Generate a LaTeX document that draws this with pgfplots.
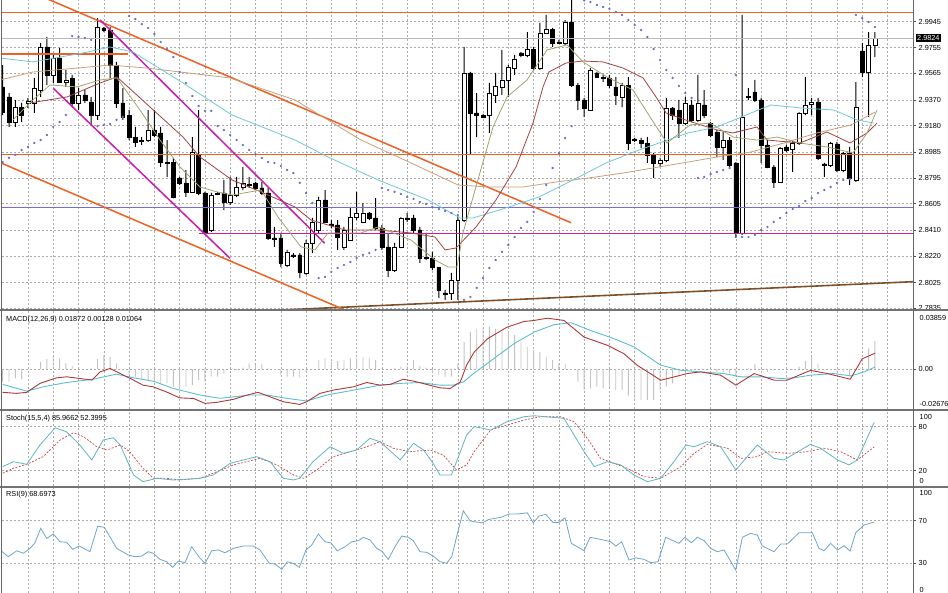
\documentclass[border=0pt]{standalone}
\usepackage{pgfplots}
\usepackage{pgfplotstable}
\pgfplotsset{compat=1.18}
\usepackage{fontspec}
\setmainfont{Liberation Sans}
\newcommand{\lbl}{\fontsize{7.3}{8.5}\selectfont}

\definecolor{mtorange}{RGB}{238,96,36}
\definecolor{mtbid}{RGB}{185,185,185}
\definecolor{mtslate}{RGB}{115,110,215}
\definecolor{mtmag}{RGB}{200,30,170}
\definecolor{mtbrown}{RGB}{125,80,40}
\definecolor{mtolive}{RGB}{160,165,110}
\definecolor{mtmaroon}{RGB}{165,65,65}
\definecolor{mtcyan}{RGB}{110,200,215}
\definecolor{mttan}{RGB}{200,160,120}
\definecolor{mtsar}{RGB}{105,105,205}
\definecolor{mtgrid}{RGB}{170,170,170}
\definecolor{mthist}{RGB}{195,195,195}
\definecolor{macdred}{RGB}{175,55,55}
\definecolor{macdcyan}{RGB}{90,190,210}
\definecolor{stochmain}{RGB}{95,180,190}
\definecolor{stochsig}{RGB}{200,70,70}
\definecolor{rsiblue}{RGB}{110,165,205}

\pgfplotstableread{
i o h l c
0 2.9465 2.9626 2.9258 2.9280
1 2.9391 2.9420 2.9170 2.9207
2 2.9207 2.9369 2.9170 2.9317
3 2.9317 2.9347 2.9207 2.9258
4 2.9347 2.9384 2.9310 2.9361
5 2.9347 2.9531 2.9273 2.9457
6 2.9442 2.9788 2.9391 2.9759
7 2.9759 2.9833 2.9479 2.9553
8 2.9553 2.9700 2.9494 2.9678
9 2.9678 2.9752 2.9494 2.9501
10 2.9501 2.9590 2.9465 2.9516
11 2.9531 2.9553 2.9317 2.9347
12 2.9347 2.9457 2.9295 2.9406
13 2.9406 2.9442 2.9347 2.9369
14 2.9354 2.9391 2.9185 2.9258
15 2.9258 2.9972 2.9222 2.9906
16 2.9899 2.9906 2.9869 2.9884
17 2.9884 2.9906 2.9531 2.9626
18 2.9626 2.9649 2.9310 2.9347
19 2.9347 2.9457 2.9222 2.9244
20 2.9258 2.9295 2.9074 2.9096
21 2.9096 2.9170 2.9023 2.9060
22 2.9067 2.9096 2.9038 2.9074
23 2.9074 2.9295 2.9060 2.9148
24 2.9148 2.9295 2.9096 2.9111
25 2.9126 2.9170 2.8876 2.8912
26 2.8912 2.9074 2.8802 2.8905
27 2.8912 2.8942 2.8647 2.8655
28 2.8795 2.8802 2.8743 2.8758
29 2.8758 2.8853 2.8655 2.8692
30 2.8692 2.9096 2.8684 2.8986
31 2.8964 2.9295 2.8669 2.8684
32 2.8684 2.8692 2.8390 2.8397
33 2.8412 2.8684 2.8397 2.8669
34 2.8677 2.8692 2.8669 2.8684
35 2.8684 2.8780 2.8559 2.8618
36 2.8618 2.8802 2.8596 2.8669
37 2.8669 2.8802 2.8655 2.8728
38 2.8728 2.8876 2.8706 2.8758
39 2.8750 2.8802 2.8721 2.8743
40 2.8758 2.8765 2.8706 2.8721
41 2.8721 2.8765 2.8669 2.8684
42 2.8684 2.8721 2.8338 2.8353
43 2.8353 2.8434 2.8287 2.8346
44 2.8353 2.8390 2.8139 2.8169
45 2.8154 2.8265 2.8139 2.8250
46 2.8228 2.8242 2.8206 2.8220
47 2.8228 2.8242 2.8058 2.8103
48 2.8095 2.8338 2.8081 2.8316
49 2.8316 2.8500 2.8242 2.8471
50 2.8412 2.8655 2.8390 2.8633
51 2.8633 2.8706 2.8463 2.8471
52 2.8456 2.8485 2.8427 2.8449
53 2.8449 2.8485 2.8265 2.8360
54 2.8287 2.8434 2.8265 2.8412
55 2.8338 2.8581 2.8338 2.8507
56 2.8507 2.8692 2.8485 2.8537
57 2.8471 2.8610 2.8463 2.8537
58 2.8537 2.8544 2.8485 2.8500
59 2.8500 2.8647 2.8412 2.8427
60 2.8427 2.8449 2.8265 2.8287
61 2.8287 2.8390 2.8066 2.8117
62 2.8117 2.8316 2.8103 2.8287
63 2.8287 2.8507 2.8279 2.8500
64 2.8500 2.8537 2.8471 2.8493
65 2.8500 2.8522 2.8390 2.8412
66 2.8412 2.8434 2.8169 2.8206
67 2.8206 2.8390 2.8191 2.8213
68 2.8206 2.8250 2.8117 2.8139
69 2.8139 2.8139 2.7911 2.7970
70 2.7948 2.7970 2.7897 2.7941
71 2.7948 2.8095 2.7897 2.8044
72 2.8044 2.8507 2.7897 2.8485
73 2.8485 2.9759 2.8471 2.9568
74 2.9568 2.9575 2.8964 2.9273
75 2.9273 2.9420 2.9096 2.9258
76 2.9258 2.9266 2.9236 2.9244
77 2.9258 2.9494 2.9126 2.9420
78 2.9406 2.9568 2.9347 2.9472
79 2.9465 2.9737 2.9406 2.9516
80 2.9516 2.9626 2.9391 2.9612
81 2.9604 2.9700 2.9553 2.9671
82 2.9715 2.9722 2.9685 2.9700
83 2.9700 2.9869 2.9685 2.9744
84 2.9744 2.9759 2.9590 2.9604
85 2.9604 2.9936 2.9590 2.9862
86 2.9862 2.9995 2.9862 2.9891
87 2.9891 2.9899 2.9759 2.9788
88 2.9796 2.9811 2.9781 2.9788
89 2.9788 2.9958 2.9774 2.9943
90 2.9943 3.0120 2.9465 2.9479
91 2.9479 2.9494 2.9295 2.9369
92 2.9369 2.9384 2.9244 2.9310
93 2.9295 2.9604 2.9295 2.9590
94 2.9568 2.9575 2.9531 2.9538
95 2.9538 2.9553 2.9501 2.9531
96 2.9531 2.9553 2.9457 2.9479
97 2.9465 2.9538 2.9332 2.9406
98 2.9391 2.9494 2.9317 2.9479
99 2.9479 2.9538 2.9001 2.9052
100 2.9082 2.9089 2.9060 2.9074
101 2.9074 2.9089 2.9015 2.9052
102 2.9052 2.9096 2.8905 2.8964
103 2.8964 2.8979 2.8795 2.8905
104 2.8905 2.8942 2.8876 2.8927
105 2.8927 2.9384 2.8912 2.9310
106 2.9310 2.9317 2.9222 2.9258
107 2.9295 2.9369 2.9089 2.9199
108 2.9199 2.9391 2.9185 2.9347
109 2.9332 2.9369 2.9207 2.9222
110 2.9222 2.9553 2.9207 2.9347
111 2.9332 2.9442 2.9236 2.9258
112 2.9199 2.9207 2.9096 2.9111
113 2.9133 2.9148 2.8949 2.9023
114 2.9023 2.9133 2.8927 2.9074
115 2.9074 2.9096 2.8876 2.8890
116 2.8905 2.8912 2.8353 2.8390
117 2.8390 2.9995 2.8375 2.9244
118 2.9391 2.9457 2.9369 2.9398
119 2.9428 2.9516 2.9354 2.9369
120 2.9369 2.9384 2.8905 2.9038
121 2.9038 2.9074 2.8868 2.8876
122 2.8876 2.8890 2.8721 2.8765
123 2.8765 2.9023 2.8758 2.9015
124 2.9023 2.9038 2.8986 2.9001
125 2.9008 2.9074 2.8839 2.9052
126 2.9052 2.9280 2.9038 2.9273
127 2.9273 2.9538 2.9258 2.9332
128 2.9339 2.9384 2.9258 2.9354
129 2.9354 2.9384 2.8927 2.8942
130 2.8898 2.8905 2.8802 2.8890
131 2.8890 2.9060 2.8876 2.9052
132 2.9045 2.9060 2.8839 2.8853
133 2.8853 2.8986 2.8839 2.8979
134 2.8979 2.9023 2.8743 2.8795
135 2.8780 2.9501 2.8765 2.9317
136 2.9730 2.9788 2.9538 2.9575
137 2.9575 2.9869 2.9244 2.9774
138 2.9774 2.9869 2.9685 2.9825
}\candles

\pgfplotstableread{
x y
-0.43 2.9516
4.79 2.9575
10.17 2.9597
16.98 2.9626
22.83 2.9604
28.05 2.9575
35.97 2.9531
46.25 2.9369
56.69 2.9074
64.6 2.8905
72.04 2.8743
76.95 2.8728
82.33 2.8728
87.55 2.8765
92.77 2.8795
98.15 2.8831
108.44 2.8912
113.02 2.8949
118.4 2.8986
123.62 2.9052
128.84 2.9126
134.22 2.9185
138.02 2.9280
}\tanma

\pgfplotstableread{
x y
-0.43 2.9678
4.79 2.9649
12.71 2.9715
16.98 2.9759
20.62 2.9722
28.53 2.9494
36.28 2.9258
46.25 2.9074
51.47 2.8949
59.38 2.8780
67.3 2.8633
72.36 2.8500
74.41 2.8500
79.64 2.8574
84.86 2.8655
90.24 2.8780
95.46 2.8905
100.68 2.9001
108.44 2.9126
113.02 2.9170
118.4 2.9273
121.56 2.9332
126.31 2.9310
131.53 2.9295
135.17 2.9222
137.86 2.9199
}\cyanma

\pgfplotstableread{
x y
4.32 2.9347
10.17 2.9391
15.4 2.9494
18.09 2.9538
23.31 2.9317
28.53 2.9096
31.22 2.8949
36.28 2.8780
40.87 2.8692
46.25 2.8581
48.78 2.8485
54.16 2.8412
59.38 2.8412
64.6 2.8390
68.4 2.8360
69.99 2.8265
71.72 2.8279
74.89 2.8434
78.05 2.8633
81.22 2.8876
83.91 2.9199
85.49 2.9465
86.44 2.9575
89.13 2.9641
91.82 2.9656
94.99 2.9649
98.15 2.9604
101.32 2.9531
103.37 2.9391
104.96 2.9273
108.44 2.9215
113.02 2.9148
115.55 2.9126
119.35 2.9170
120.93 2.9074
126.15 2.9052
130.42 2.9133
134.07 2.9052
136.76 2.9126
138.34 2.9199
}\maroonma

\pgfplotstableread{
x y
1.63 2.9222
4.79 2.9369
7.48 2.9479
11.76 2.9465
15.4 2.9516
18.09 2.9531
21.72 2.9295
24.89 2.9074
28.05 2.8876
31.22 2.8728
33.91 2.8692
36.28 2.8669
40.87 2.8706
43.56 2.8507
47.2 2.8287
49.41 2.8265
51.47 2.8390
56.69 2.8390
59.38 2.8434
64.6 2.8338
68.4 2.8191
70.46 2.8139
71.88 2.8139
72.83 2.8390
75.05 2.8758
77.58 2.9170
79.8 2.9391
82.96 2.9516
86.12 2.9737
89.29 2.9774
91.82 2.9649
95.62 2.9538
99.73 2.9442
102.42 2.9244
105.11 2.9052
108.75 2.9185
111.91 2.9199
115.55 2.9096
119.35 2.9074
122.52 2.9096
126.15 2.9052
130.42 2.9023
134.54 2.8979
136.76 2.9126
138.34 2.9295
}\olivema

\pgfplotstableread{
x y
0 2.8912
1 2.8942
2 2.8964
3 2.9001
4 2.9023
5 2.9052
6 2.9074
7 2.9111
8 2.9170
9 2.9207
10 2.9258
11 2.9840
12 2.9833
13 2.9825
14 2.9811
15 2.9177
16 2.9185
17 2.9192
18 2.9222
19 2.9244
20 2.9987
21 2.9965
22 2.9928
23 2.9899
24 2.9855
25 2.9796
26 2.9744
27 2.9685
28 2.9575
29 2.9494
30 2.9398
31 2.9325
32 2.9288
33 2.9288
34 2.9177
35 2.9148
36 2.9111
37 2.9074
38 2.9038
39 2.9001
40 2.8971
41 2.8942
42 2.8912
43 2.8905
44 2.8883
45 2.8853
46 2.8831
47 2.8758
48 2.8684
49 2.8610
50 2.8058
51 2.8066
52 2.8103
53 2.8132
54 2.8154
55 2.8176
56 2.8206
57 2.8228
58 2.8242
59 2.8265
60 2.8721
61 2.8706
62 2.8692
63 2.8677
64 2.8655
65 2.8640
66 2.8618
67 2.8603
68 2.8581
69 2.8566
70 2.8552
71 2.8537
72 2.8522
73 2.7897
74 2.7919
75 2.7985
76 2.8058
77 2.8132
78 2.8191
79 2.8250
80 2.8301
81 2.8360
82 2.8427
83 2.8471
84 2.8544
85 2.8640
86 2.8743
87 2.8868
88 2.8979
89 2.9089
90 2.9177
92 3.0102
93 3.0090
94 3.0068
95 3.0053
96 3.0039
97 3.0017
98 2.9995
99 2.9958
100 2.9921
101 2.9884
102 2.9833
103 2.9744
104 2.9663
105 2.9590
106 2.9531
107 2.9472
108 2.9420
109 2.9384
110 2.8795
111 2.8802
112 2.8824
113 2.8839
114 2.8853
115 2.8868
116 2.9553
117 2.8360
118 2.8360
119 2.8375
120 2.8412
121 2.8434
122 2.8471
123 2.8500
124 2.8537
125 2.8566
126 2.8588
127 2.8625
128 2.8647
129 2.8684
130 2.8706
131 2.8728
132 2.8758
133 2.8780
134 2.8787
135 2.9995
136 2.9972
137 2.9943
138 2.9906
}\sar

\pgfplotstableread{
i v
0 -0.0084
1 -0.0084
2 -0.0062
3 -0.0067
4 -0.0007
5 0.0000
6 0.0049
7 0.0067
8 0.0082
9 0.0071
10 0.0038
11 0.0022
12 0.0000
13 0.0000
14 0.0004
15 0.0067
16 0.0093
17 0.0082
18 0.0038
19 -0.0007
20 -0.0040
21 -0.0051
22 -0.0067
23 -0.0073
24 -0.0084
25 -0.0102
26 -0.0096
27 -0.0118
28 -0.0129
29 -0.0118
30 -0.0107
31 -0.0073
32 -0.0084
33 -0.0051
34 -0.0051
35 -0.0029
36 0.0000
37 -0.0007
38 0.0009
39 0.0038
40 0.0027
41 0.0031
42 0.0004
43 -0.0007
44 -0.0040
45 -0.0051
46 -0.0051
47 -0.0058
48 -0.0018
49 0.0000
50 0.0060
51 0.0071
52 0.0049
53 0.0053
54 0.0060
55 0.0071
56 0.0071
57 0.0082
58 0.0076
59 0.0060
60 0.0004
61 0.0000
62 0.0004
63 0.0016
64 0.0022
65 0.0060
66 0.0022
67 0.0009
68 -0.0029
69 -0.0040
70 -0.0051
71 -0.0051
72 0.0038
73 0.0182
74 0.0249
75 0.0271
76 0.0282
77 0.0282
78 0.0271
79 0.0253
80 0.0249
81 0.0227
82 0.0182
83 0.0149
84 0.0127
85 0.0116
86 0.0082
87 0.0060
88 0.0038
89 0.0031
90 -0.0007
91 -0.0084
92 -0.0140
93 -0.0129
94 -0.0118
95 -0.0129
96 -0.0118
97 -0.0140
98 -0.0140
99 -0.0178
100 -0.0207
101 -0.0207
102 -0.0207
103 -0.0207
104 -0.0140
105 -0.0118
106 -0.0096
107 -0.0051
108 -0.0029
109 -0.0013
110 -0.0007
111 -0.0002
112 -0.0007
113 -0.0018
114 -0.0018
115 -0.0029
116 -0.0051
117 -0.0007
118 0.0004
119 0.0031
120 -0.0007
121 -0.0018
122 -0.0007
123 0.0000
124 0.0004
125 -0.0007
126 0.0016
127 0.0053
128 0.0082
129 0.0038
130 0.0000
131 -0.0007
132 -0.0018
133 -0.0018
134 -0.0040
135 -0.0007
136 0.0004
137 0.0138
138 0.0187
}\hist

\pgfplotstableread{
x y
0 -0.0156
2.2 -0.0163
3.8 -0.0156
5.9 -0.0096
8.5 -0.0059
10.1 -0.0052
12.2 -0.0063
14.1 -0.0074
15.4 -0.0019
17.0 0.0004
18.6 -0.0030
20.7 -0.0074
22.2 -0.0108
23.8 -0.0119
25.9 -0.0153
28.0 -0.0193
30.2 -0.0197
32.0 -0.0230
33.9 -0.0223
36.5 -0.0203
38.6 -0.0175
40.4 -0.0156
42.3 -0.0186
44.4 -0.0219
47.0 -0.0237
48.1 -0.0219
50.2 -0.0163
52.3 -0.0141
55.5 -0.0119
57.6 -0.0090
59.7 -0.0108
61.3 -0.0103
63.4 -0.0068
65.0 -0.0081
67.1 -0.0103
69.2 -0.0126
70.8 -0.0130
72.4 -0.0086
73.4 0.0026
74.6 0.0114
76.7 0.0203
79.8 0.0281
82.5 0.0319
84.1 0.0326
86.2 0.0341
88.8 0.0326
92.0 0.0214
95.7 0.0159
98.3 0.0103
100.4 0.0025
102.5 -0.0031
104.1 -0.0075
106.2 -0.0053
108.3 -0.0030
110.4 -0.0019
113.6 -0.0041
116.0 -0.0108
118.9 -0.0030
122.1 -0.0075
124.1 -0.0075
127.8 -0.0009
130.5 -0.0030
134.1 -0.0068
136.0 0.0069
138.0 0.0106
}\macdr

\pgfplotstableread{
x y
0 -0.0103
3.8 -0.0148
6.4 -0.0119
10.1 -0.0090
14.3 -0.0068
18.0 -0.0034
20.7 -0.0059
23.8 -0.0081
27.0 -0.0130
31.2 -0.0174
34.4 -0.0196
39.1 -0.0174
41.8 -0.0174
44.9 -0.0196
48.1 -0.0214
51.3 -0.0174
55.5 -0.0141
59.7 -0.0108
62.9 -0.0096
66.0 -0.0090
69.2 -0.0108
71.3 -0.0108
72.9 -0.0086
74.5 -0.0030
77.7 0.0070
80.9 0.0170
84.1 0.0248
87.2 0.0297
89.9 0.0311
93.0 0.0259
96.7 0.0204
99.9 0.0148
104.1 0.0026
107.3 -0.0008
110.4 -0.0019
114.1 -0.0030
116.8 -0.0052
119.9 -0.0052
123.1 -0.0063
125.2 -0.0059
127.8 -0.0041
131.5 -0.0030
134.2 -0.0046
136.3 -0.0019
138.0 0.0013
}\macdc

\pgfplotstableread{
x y
0 25.4
1.7 32.2
3.8 28.6
5.9 55.0
8.3 78.5
10.1 73.1
12.2 55.0
14.1 34.5
15.9 61.8
17.5 64.9
18.6 55.0
20.7 14.0
22.2 4.9
24.4 9.5
27.0 7.2
31.2 9.5
33.3 14.0
36.0 30.0
40.2 39.0
42.3 32.2
44.4 9.5
46.0 7.2
47.0 9.5
49.1 32.2
51.8 52.6
53.9 43.6
56.0 48.1
58.1 64.1
59.7 59.5
62.9 34.5
65.0 57.3
66.6 48.1
68.1 30.0
69.2 14.0
71.0 14.0
72.4 45.8
73.4 68.6
74.6 79.9
75.6 78.5
77.2 75.4
79.8 86.7
82.5 93.6
84.1 94.9
88.8 91.4
92.0 45.8
93.6 25.4
95.7 32.2
97.8 27.7
99.9 14.0
102.0 4.9
104.1 9.5
106.2 32.2
108.1 55.0
109.4 52.6
111.5 59.5
113.6 52.6
116.0 20.9
119.4 55.0
122.0 36.8
123.6 34.5
127.8 55.9
129.4 50.5
132.1 34.5
133.9 27.7
135.2 34.5
137.9 86.0
}\stochm

\pgfplotstableread{
x y
0 16.4
1.7 23.2
3.8 28.6
6.4 39.0
9.1 61.8
11.2 71.7
12.8 66.3
14.9 52.6
16.5 48.1
18.6 55.0
20.1 45.8
22.2 23.2
23.8 9.5
25.9 9.5
28.0 7.2
31.2 9.5
33.9 18.5
36.5 27.7
40.7 36.8
43.4 27.7
46.0 14.0
47.6 9.5
49.7 20.9
52.3 39.0
55.0 45.8
57.6 52.6
59.7 59.5
61.8 50.5
64.4 45.8
67.6 48.1
69.7 41.3
71.8 20.9
73.4 27.7
74.6 45.8
77.2 75.4
79.8 82.2
82.5 89.1
85.1 93.6
88.3 93.6
90.4 86.7
92.5 64.1
94.6 36.8
96.7 30.0
98.8 23.2
101.5 11.7
104.1 9.5
107.3 25.4
109.4 43.6
111.5 55.9
114.7 50.5
116.8 36.8
119.4 39.0
121.0 45.8
124.2 43.6
127.3 45.8
130.0 50.5
132.6 45.8
135.2 34.5
137.9 52.4
}\stochs

\pgfplotstableread{
x y
-0.43 42.5
0.89 36.2
2.22 41.8
3.26 39.4
4.32 44.0
5.11 49.3
6.01 62.8
6.96 53.4
8.01 57.5
9.07 50.2
10.13 49.7
11.08 43.1
12.12 46.2
13.81 40.9
15.03 64.9
16.08 63.7
18.04 44.0
19.87 37.8
20.93 36.2
21.99 36.8
23.04 40.9
23.83 39.4
24.89 33.7
25.95 31.5
26.90 26.2
27.78 32.1
28.84 30.6
29.91 45.5
31.11 35.6
32.01 30.0
33.07 41.8
34.11 42.5
35.17 39.9
36.49 44.0
38.07 46.2
39.65 46.2
40.71 42.5
42.18 30.0
43.09 29.3
44.15 24.4
45.03 31.5
45.98 30.0
46.93 26.2
47.99 42.5
48.89 47.1
49.94 57.5
51.0 50.2
51.9 49.3
52.94 41.8
54.16 45.5
55.22 50.2
56.27 51.2
57.06 54.4
58.12 51.8
59.18 44.0
59.97 41.5
61.01 33.7
62.07 45.5
63.13 55.6
64.18 54.4
64.97 51.2
66.03 40.9
67.09 40.3
68.13 36.8
69.19 31.5
70.25 30.0
71.04 36.2
72.09 61.2
72.88 79.3
73.94 69.9
74.57 69.0
75.89 68.0
76.95 71.2
78.8 73.1
80.11 76.2
81.42 76.2
83.0 77.4
83.95 68.0
84.86 74.3
85.92 75.9
87.07 68.4
88.02 68.4
88.97 72.7
89.97 48.7
91.99 41.8
92.93 54.4
95.14 51.8
96.2 50.2
97.0 46.2
97.94 50.2
99.1 33.1
100.16 35.2
101.47 33.7
102.53 30.6
103.69 31.5
104.91 54.4
107.0 48.7
107.91 54.4
108.96 49.3
109.9 54.4
110.97 51.2
112.03 44.0
113.07 40.9
114.13 42.5
115.98 23.7
117.03 54.4
118.35 58.1
119.4 56.5
120.19 46.2
122.04 40.9
123.1 48.1
124.15 48.1
126.0 58.7
128.1 58.7
129.16 44.0
129.95 41.8
131.01 48.7
132.06 42.5
133.12 46.5
134.07 41.5
134.97 58.7
136.28 65.9
137.86 68.7
}\rsi

\pgfplotsset{
  mtpanel/.style={scale only axis, width=911pt, anchor=south west, xmin=-0.11, xmax=144.03},
  mtover/.style={mtpanel, hide axis},
  mtbase/.style={mtpanel, axis line style={draw=none},
    scaled y ticks=false,
    xtick={4,8,...,140}, xticklabels={}, xtick style={draw=none},
    xmajorgrids, ymajorgrids,
    grid style={mtgrid, dash pattern=on 2.2pt off 1.8pt, line width=0.5pt},
    ytick pos=right, yticklabel pos=right, tick align=outside, major tick length=3pt,
    ytick style={black!70, line width=0.5pt},
    yticklabel style={font=\lbl, anchor=west, text=black, inner sep=0pt, xshift=2.5pt},
  },
  mainpanel/.style={at={(2pt,284pt)}, height=309pt, ymin=2.7830, ymax=3.0105},
}

\begin{document}
\begin{tikzpicture}[x=1pt,y=1pt]
\useasboundingbox (0,0) rectangle (948,593);

% main panel: grid and price scale
\begin{axis}[mtbase, mainpanel,
  ytick={2.7835,2.8025,2.8220,2.8410,2.8605,2.8795,2.8985,2.9180,2.9370,2.9565,2.9755,2.9945},
  yticklabels={2.7835,2.8025,2.8220,2.8410,2.8605,2.8795,2.8985,2.9180,2.9370,2.9565,2.9755,2.9945}]
\addplot[draw=none] coordinates {(0,2.9)};
\end{axis}

% wicks
\begin{axis}[mtover, mainpanel, ybar stacked, bar width=1pt]
\addplot[draw=none, fill=none] table[x=i, y=l] {\candles};
\addplot[fill=black, draw=none] table[x=i, y expr={\thisrow{h}-\thisrow{l}}] {\candles};
\end{axis}

% bodies
\begin{axis}[mtover, mainpanel, ybar stacked, bar width=3.9pt]
\addplot[draw=none, fill=none] table[x=i, y expr={min(\thisrow{o},\thisrow{c})}] {\candles};
\addplot[fill=white, draw=black, line width=0.6pt] table[x=i, y expr={max(\thisrow{c}-\thisrow{o},0)}] {\candles};
\addplot[fill=black, draw=black, line width=0.6pt] table[x=i, y expr={max(\thisrow{o}-\thisrow{c},0)}] {\candles};
\end{axis}

% lines, moving averages, SAR
\begin{axis}[mtover, mainpanel]
\addplot[mtorange, line width=1.5pt] coordinates {(-0.11,3.0014) (144.03,3.0014)};
\addplot[mtbid, line width=0.8pt] coordinates {(-0.11,2.9824) (144.03,2.9824)};
\addplot[mtorange, line width=1.8pt] coordinates {(-0.11,2.9705) (19.83,2.9705)};
\addplot[mtorange, line width=1.5pt] coordinates {(-0.11,2.8969) (144.03,2.8969)};
\addplot[mtslate, line width=0.9pt] coordinates {(-0.11,2.8579) (144.03,2.8579)};
\addplot[mtmag, line width=1.6pt] coordinates {(31.06,2.8387) (144.03,2.8387)};
\addplot[mtbrown, line width=1.6pt] coordinates {(38,2.7810) (144.03,2.8031)};
\addplot[mtorange, line width=1.5pt] coordinates {(5,3.0154) (89.92,2.8465)};
\addplot[mtorange, line width=1.5pt] coordinates {(-0.16,2.8903) (60,2.7706)};
\addplot[mtmag, line width=1.5pt] coordinates {(15.4,2.9958) (50.95,2.8314)};
\addplot[mtmag, line width=1.5pt] coordinates {(8.0,2.9455) (35.97,2.8203)};
\addplot[mttan, line width=0.8pt] table {\tanma};
\addplot[mtcyan, line width=0.8pt] table {\cyanma};
\addplot[mtmaroon, line width=0.8pt] table {\maroonma};
\addplot[mtolive, line width=0.8pt] table {\olivema};
\addplot[only marks, mark=*, mark size=0.95pt, mark options={draw=mtsar, fill=mtsar}] table {\sar};
\end{axis}

% MACD
\begin{axis}[mtbase, at={(2pt,184pt)}, height=97.5pt, ymin=-0.02676, ymax=0.03859,
  ytick={0}, yticklabels={0.00}]
\addplot[ybar, bar width=0.9pt, fill=mthist, draw=none] table[x=i, y=v] {\hist};
\addplot[macdcyan, line width=0.9pt] table {\macdc};
\addplot[macdred, line width=0.9pt] table {\macdr};
\end{axis}

% Stochastic
\begin{axis}[mtbase, at={(2pt,107pt)}, height=75pt, ymin=-1, ymax=101.4,
  ytick={20,80}, yticklabels={20,80}]
\addplot[stochsig, line width=0.7pt, dash pattern=on 2pt off 1.5pt] table {\stochs};
\addplot[stochmain, line width=0.8pt] table {\stochm};
\end{axis}

% RSI
\begin{axis}[mtbase, at={(2pt,0pt)}, height=105pt, ymin=2.16, ymax=100.65,
  ytick={30,70}, yticklabels={30,70}]
\addplot[rsiblue, line width=0.8pt] table {\rsi};
\end{axis}

% separators and frame
\draw[black!55, line width=1.8pt] (0,283) -- (948,283);
\draw[black!55, line width=1.8pt] (0,183) -- (948,183);
\draw[black!55, line width=1.8pt] (0,106) -- (948,106);
\draw[black!60, line width=0.8pt] (913,0) -- (913,593);
\draw[black!60, line width=0.8pt] (1.5,0) -- (1.5,593);

% labels
\node[anchor=west, font=\lbl, inner sep=0pt] at (6,273) {MACD(12,26,9) 0.01872 0.00128 0.01064};
\node[anchor=west, font=\lbl, inner sep=0pt] at (6,174.7) {Stoch(15,5,4) 85.9662 52.3995};
\node[anchor=west, font=\lbl, inner sep=0pt] at (6,98) {RSI(9) 68.6973};

\node[anchor=west, font=\lbl, inner sep=0pt] at (919.5,274.7) {0.03859};
\node[anchor=west, font=\lbl, inner sep=0pt] at (919.5,189) {-0.02676};
\node[anchor=west, font=\lbl, inner sep=0pt] at (919.5,176.3) {100};
\node[anchor=west, font=\lbl, inner sep=0pt] at (919.5,112.3) {0};
\node[anchor=west, font=\lbl, inner sep=0pt] at (919.5,100) {100};
\node[anchor=west, font=\lbl, inner sep=0pt] at (919.5,3) {0};

\node[anchor=west, fill=black, text=white, font=\lbl, inner xsep=1.5pt, inner ysep=1.2pt] at (915.5,555) {2.9824};
\end{tikzpicture}
\end{document}
